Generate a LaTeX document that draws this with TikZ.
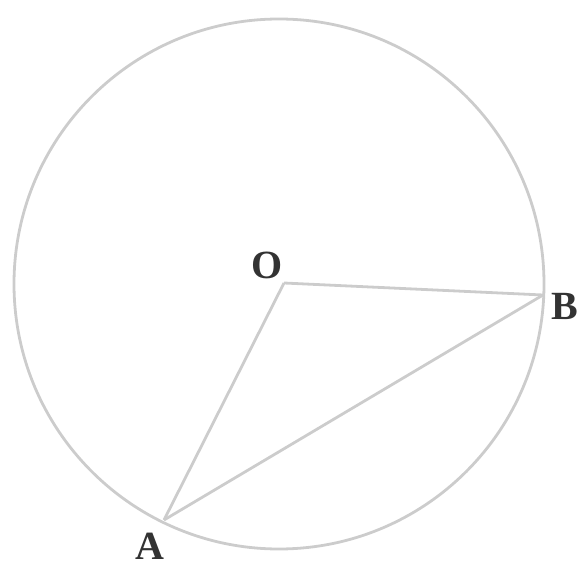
\documentclass[tikz,border=0pt]{standalone}
\usepackage{fontspec}
\setmainfont{Liberation Serif}
\begin{document}
\begin{tikzpicture}[x=1pt,y=-1pt,
  geo/.style={draw=black!20, line width=2.8pt},
  lbl/.style={font=\fontsize{40}{40}\selectfont\bfseries, text=black!80, inner sep=0pt}]
\useasboundingbox (0,0) rectangle (581,569);
\coordinate (C) at (279,284);
\coordinate (O) at (284,283);
\coordinate (B) at (543,295);
\coordinate (A) at (164,520);
\draw[geo] (C) circle[radius=265];
\draw[geo] (O) -- (B);
\draw[geo] (O) -- (A);
\draw[geo] (A) -- (B);
\node[lbl] (lo) at (267,265) {O};
\node[lbl] (lb) at (565,306) {B};
\node[lbl] (la) at (150,546) {A};
\end{tikzpicture}
\end{document}
